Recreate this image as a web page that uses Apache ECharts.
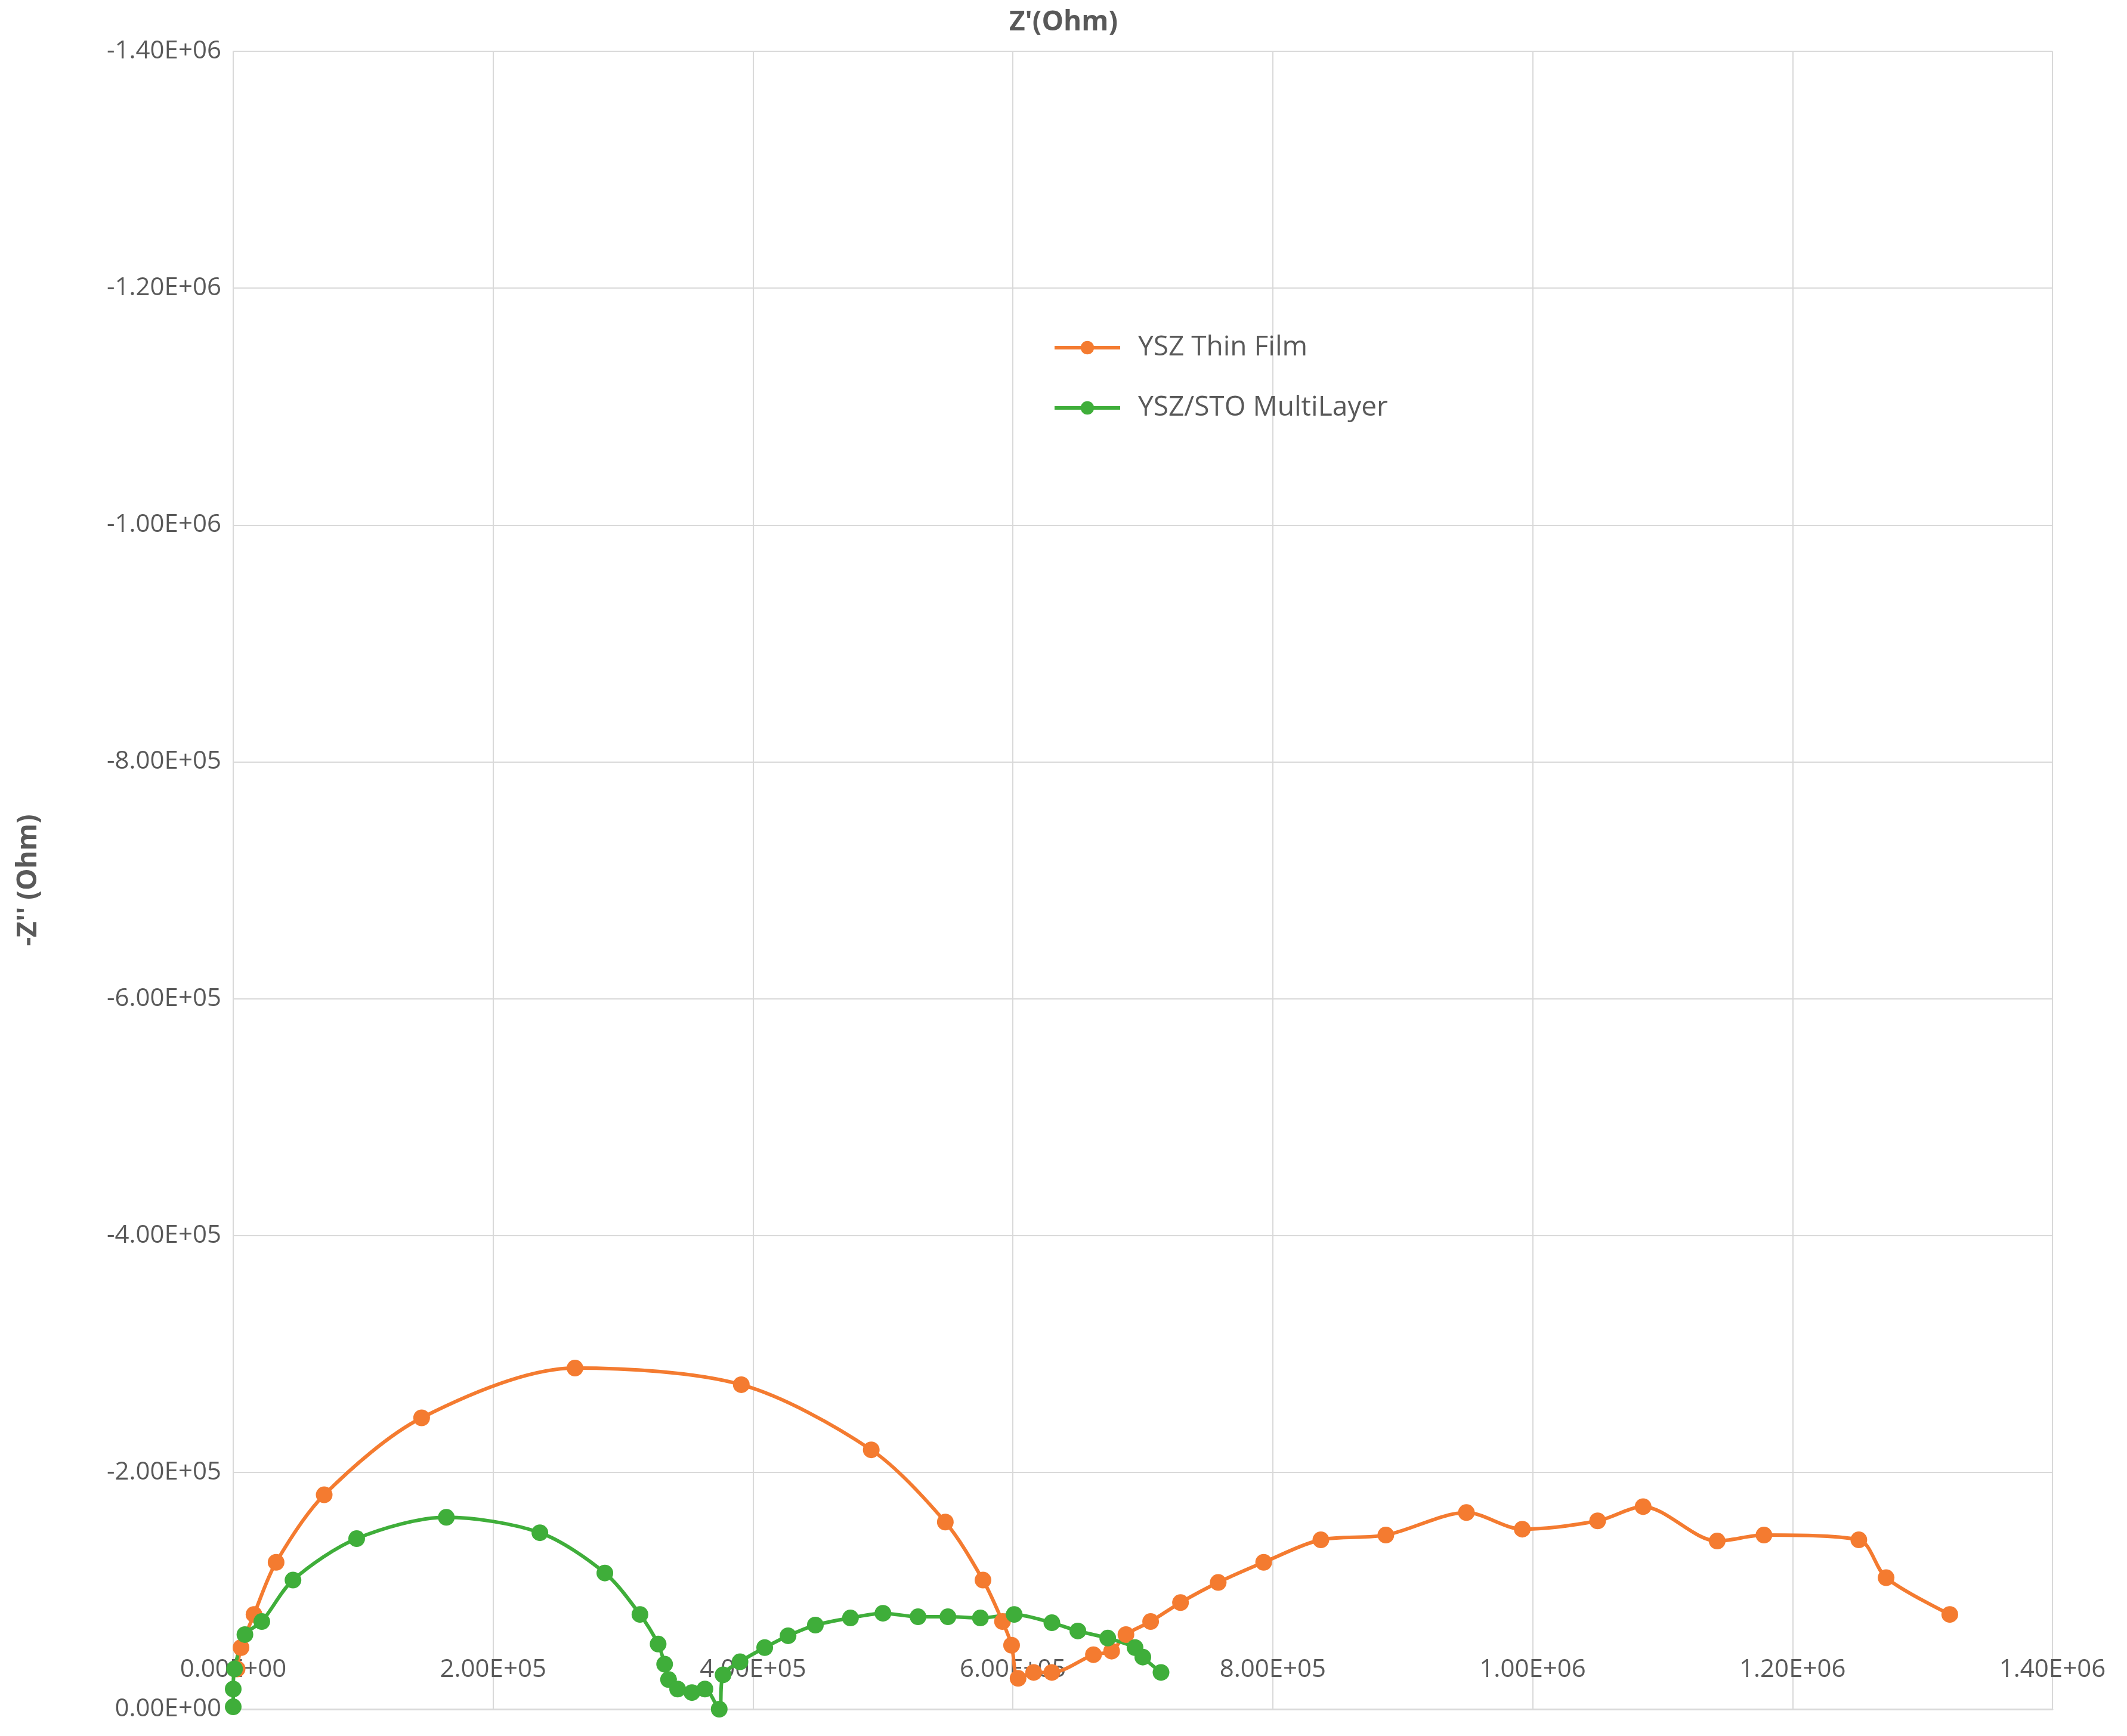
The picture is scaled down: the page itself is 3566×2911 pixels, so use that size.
<!DOCTYPE html>
<html>
<head>
<meta charset="utf-8">
<script src="https://cdn.jsdelivr.net/npm/echarts@6/dist/echarts.min.js"></script>
<style>
html,body{margin:0;padding:0;background:#fff;}
#chart{width:3566px;height:2911px;}
</style>
</head>
<body>
<div id="chart"></div>
<script>
var seriesNames = ['YSZ Thin Film', 'YSZ/STO MultiLayer'];
// Z' (Ohm) and Z'' (Ohm)
var thinFilmX = [3e3, 6e3, 16e3, 33e3, 70e3, 145e3, 263e3, 391e3, 491e3, 548e3, 577e3, 592e3, 599e3, 604e3, 616e3, 630e3, 662e3, 676e3, 687e3, 706e3, 729e3, 758e3, 793e3, 837e3, 887e3, 949e3, 992e3, 1050e3, 1085e3, 1142e3, 1178e3, 1251e3, 1272e3, 1321e3];
var thinFilmY = [-34e3, -52e3, -80e3, -124e3, -181e3, -246e3, -288e3, -274e3, -219e3, -158e3, -109e3, -74e3, -54e3, -26e3, -31e3, -31e3, -46e3, -49e3, -63e3, -74e3, -90e3, -107e3, -124e3, -143e3, -147e3, -166e3, -152e3, -159e3, -171e3, -142e3, -147e3, -143e3, -111e3, -80e3];
var multiX = [0, 0, 1e3, 9e3, 22e3, 46e3, 95e3, 164e3, 236e3, 286e3, 313e3, 327e3, 332e3, 335e3, 342e3, 353e3, 363e3, 374e3, 377e3, 390e3, 409e3, 427e3, 448e3, 475e3, 500e3, 527e3, 550e3, 575e3, 601e3, 630e3, 650e3, 673e3, 694e3, 700e3, 714e3];
var multiY = [-2e3, -17e3, -34e3, -63e3, -74e3, -109e3, -144e3, -162e3, -149e3, -115e3, -80e3, -55e3, -38e3, -25e3, -17e3, -14e3, -17e3, 0, -29e3, -40e3, -52e3, -62e3, -71e3, -77e3, -81e3, -78e3, -78e3, -77e3, -80e3, -73e3, -66e3, -60e3, -52e3, -44e3, -31e3];

function pairs(xs, ys){
    var out = [];
    for(var i=0;i<xs.length;i++){ out.push([xs[i], ys[i]]); }
    return out;
}
function sci(v){
    if(v === 0) return '0.00E+00';
    var e = Math.floor(Math.log10(Math.abs(v)) + 1e-9);
    var m = v / Math.pow(10, e);
    return m.toFixed(2) + 'E+' + (e < 10 ? '0' + e : e);
}

var chart = echarts.init(document.getElementById('chart'));
var font = 'Open Sans, Liberation Sans, sans-serif';
var option = {
    backgroundColor: '#ffffff',
    animation: false,
    title: {
        text: "Z'(Ohm)",
        left: 'center',
        top: 10,
        textStyle: {fontSize: 46, fontWeight: 'bold', color: '#595959', fontFamily: font}
    },
    legend: {
        orient: 'vertical',
        left: 1760,
        top: 555,
        itemGap: 55,
        itemWidth: 110,
        itemHeight: 28,
        lineStyle: {width: 6},
        textStyle: {fontSize: 46, color: '#595959', fontFamily: font, padding: [0, 0, 0, 25]},
        data: seriesNames
    },
    grid: {left: 391, right: 125, top: 86, bottom: 45},
    xAxis: {
        type: 'value',
        min: 0, max: 1400000, interval: 200000,
        axisLine: {show: true, lineStyle: {color: '#d9d9d9', width: 3}},
        axisTick: {show: false},
        axisLabel: {inside: true, margin: 45, formatter: sci, fontSize: 42, color: '#595959', fontFamily: font},
        splitLine: {show: true, lineStyle: {color: '#d9d9d9', width: 2}}
    },
    yAxis: {
        type: 'value',
        inverse: true,
        min: -1400000, max: 0, interval: 200000,
        name: "-Z'' (Ohm)",
        nameLocation: 'middle',
        nameGap: 320,
        nameTextStyle: {fontSize: 46, fontWeight: 'bold', color: '#595959', fontFamily: font},
        axisLine: {show: true, lineStyle: {color: '#d9d9d9', width: 2}},
        axisTick: {show: false},
        axisLabel: {formatter: sci, fontSize: 42, margin: 20, color: '#595959', fontFamily: font},
        splitLine: {show: true, lineStyle: {color: '#d9d9d9', width: 2}}
    },
    series: [
        {
            name: seriesNames[0],
            type: 'line',
            smooth: 0.3,
            symbol: 'circle',
            symbolSize: 28,
            itemStyle: {color: '#f47b30'},
            lineStyle: {color: '#f47b30', width: 6},
            data: pairs(thinFilmX, thinFilmY)
        },
        {
            name: seriesNames[1],
            type: 'line',
            smooth: 0.3,
            symbol: 'circle',
            symbolSize: 28,
            itemStyle: {color: '#3fae3a'},
            lineStyle: {color: '#3fae3a', width: 6},
            data: pairs(multiX, multiY)
        }
    ]
};
chart.setOption(option);
</script>
</body>
</html>
